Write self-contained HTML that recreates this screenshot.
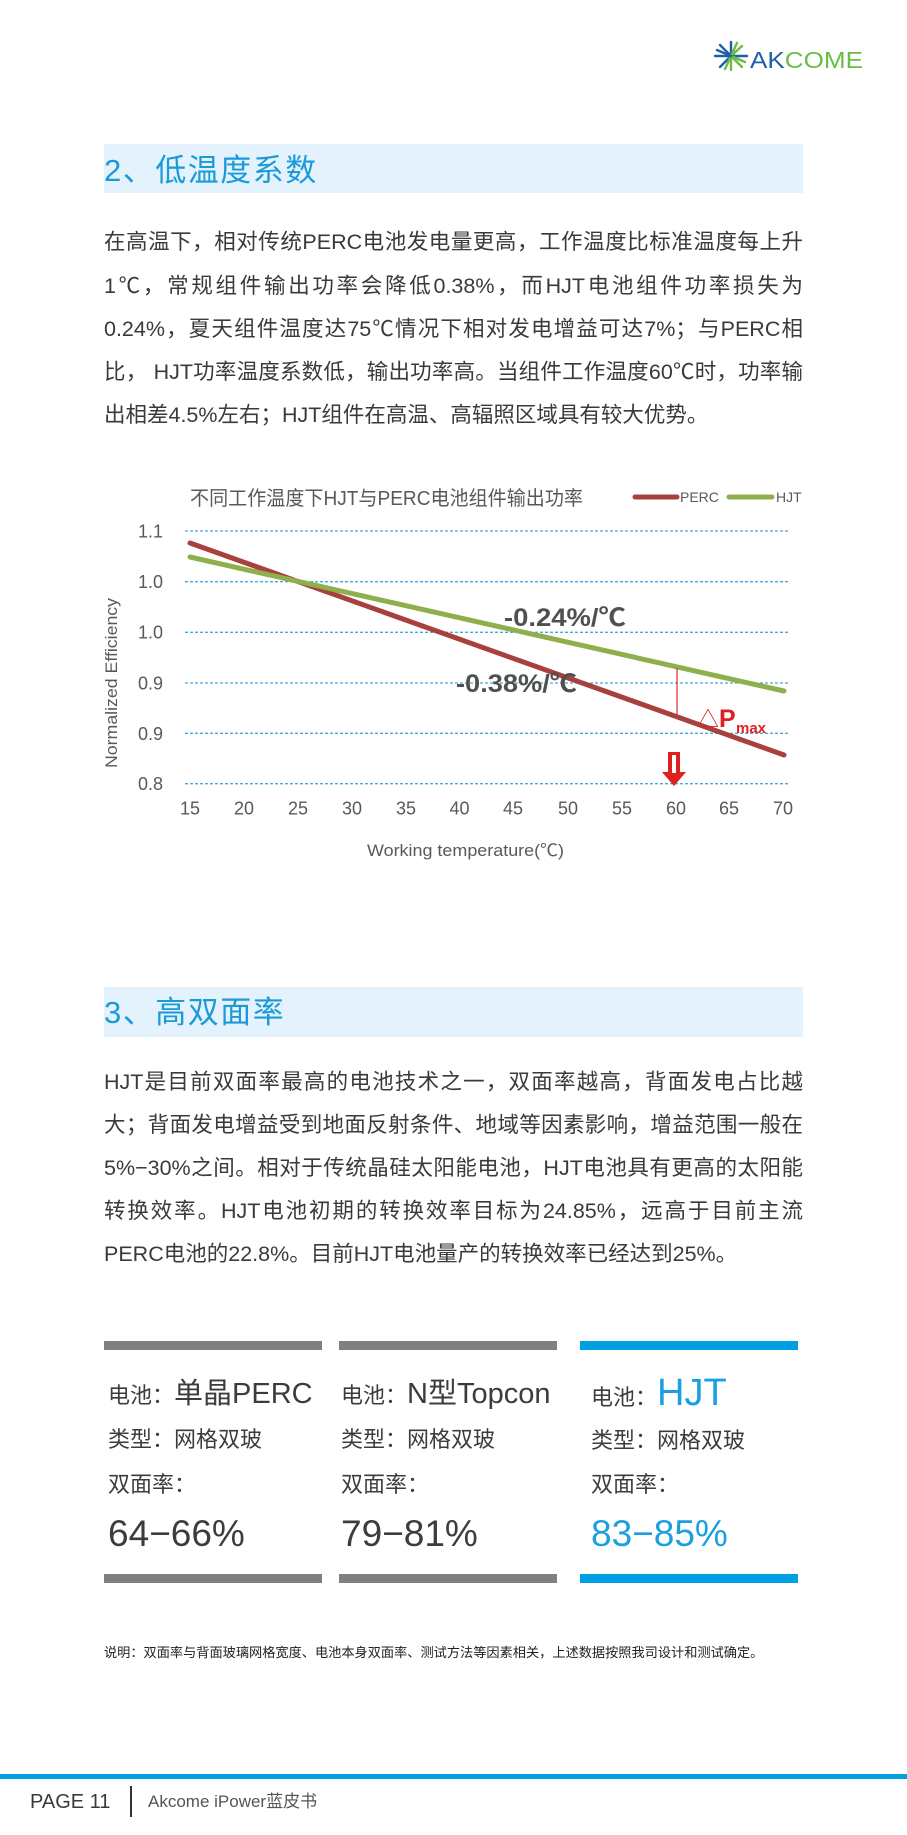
<!DOCTYPE html>
<html><head><meta charset="utf-8">
<style>
html,body{margin:0;padding:0;background:#fff;}
body{width:907px;height:1835px;position:relative;overflow:hidden;font-family:"Liberation Sans","Noto Sans CJK SC",sans-serif;}
.abs{position:absolute;}
.band{position:absolute;left:104px;width:699px;background:#e3f2fc;}
.h{position:absolute;left:104px;font-size:31px;letter-spacing:1.5px;color:#1a9ad7;white-space:nowrap;}
.ln{position:absolute;left:104px;width:699px;height:30px;line-height:30px;font-size:21.5px;color:#3a3a3a;white-space:nowrap;text-align:justify;text-align-last:justify;}
.ln.last{text-align:left;text-align-last:left;}
.bar{position:absolute;height:9px;}
.ct{position:absolute;white-space:nowrap;color:#3c3c3c;font-size:22px;line-height:30px;height:30px;}
.val{position:absolute;white-space:nowrap;color:#3c3c3c;font-size:37px;line-height:44px;height:44px;}
</style></head><body>

<svg class="abs" style="left:0;top:0" width="907" height="900" viewBox="0 0 907 900">
  <g stroke-width="2.4" stroke-linecap="round">
    <line x1="731" y1="56" x2="731" y2="42" stroke="#1f5ea8"/>
    <line x1="731" y1="56" x2="742" y2="46" stroke="#6abd45"/>
    <line x1="731" y1="56" x2="747" y2="56" stroke="#1f5ea8"/>
    <line x1="731" y1="56" x2="742" y2="67" stroke="#6abd45"/>
    <line x1="731" y1="56" x2="731" y2="70" stroke="#6abd45"/>
    <line x1="731" y1="56" x2="720" y2="67" stroke="#1f5ea8"/>
    <line x1="731" y1="56" x2="715" y2="56" stroke="#1f5ea8"/>
    <line x1="731" y1="56" x2="720" y2="45" stroke="#1f5ea8"/>
    <line x1="731" y1="56" x2="737" y2="43" stroke="#6abd45"/>
    <line x1="731" y1="56" x2="725" y2="69" stroke="#6abd45"/>
    <line x1="731" y1="56" x2="745" y2="62" stroke="#6abd45"/>
    <line x1="731" y1="56" x2="717" y2="50" stroke="#1f5ea8"/>
  </g>
  <text x="750" y="68" font-family="Liberation Sans" font-size="23" textLength="113" lengthAdjust="spacingAndGlyphs"><tspan fill="#1f5ea8">AK</tspan><tspan fill="#6abd45">COME</tspan></text>

  <text x="190" y="505" font-family="Liberation Sans, Noto Sans CJK SC, sans-serif" font-size="20" fill="#595959" textLength="393" lengthAdjust="spacingAndGlyphs">不同工作温度下HJT与PERC电池组件输出功率</text>
  <line x1="635" y1="497" x2="677" y2="497" stroke="#a8413e" stroke-width="5" stroke-linecap="round"/>
  <text x="680" y="502" font-family="Liberation Sans" font-size="14" fill="#595959">PERC</text>
  <line x1="729" y1="497" x2="772" y2="497" stroke="#8db04d" stroke-width="5" stroke-linecap="round"/>
  <text x="776" y="502" font-family="Liberation Sans" font-size="14" fill="#595959">HJT</text>

  <g stroke="#4aa8dc" stroke-width="1.3" stroke-dasharray="3 2">
    <line x1="185" y1="531" x2="789" y2="531"/>
    <line x1="185" y1="581.7" x2="789" y2="581.7"/>
    <line x1="185" y1="632.3" x2="789" y2="632.3"/>
    <line x1="185" y1="683" x2="789" y2="683"/>
    <line x1="185" y1="733.3" x2="789" y2="733.3"/>
    <line x1="185" y1="783.7" x2="789" y2="783.7"/>
  </g>
  <g font-family="Liberation Sans" font-size="18" fill="#595959" text-anchor="end">
    <text x="163" y="537.5">1.1</text>
    <text x="163" y="588">1.0</text>
    <text x="163" y="638.5">1.0</text>
    <text x="163" y="689.5">0.9</text>
    <text x="163" y="740">0.9</text>
    <text x="163" y="790">0.8</text>
  </g>
  <g font-family="Liberation Sans" font-size="18" fill="#595959" text-anchor="middle">
    <text x="190" y="814.5">15</text>
    <text x="244" y="814.5">20</text>
    <text x="298" y="814.5">25</text>
    <text x="352" y="814.5">30</text>
    <text x="406" y="814.5">35</text>
    <text x="459.5" y="814.5">40</text>
    <text x="513" y="814.5">45</text>
    <text x="568" y="814.5">50</text>
    <text x="622" y="814.5">55</text>
    <text x="676" y="814.5">60</text>
    <text x="729" y="814.5">65</text>
    <text x="783" y="814.5">70</text>
  </g>
  <text transform="translate(117,683) rotate(-90)" text-anchor="middle" font-family="Liberation Sans" font-size="16.5" fill="#595959" textLength="170" lengthAdjust="spacingAndGlyphs">Normalized Efficiency</text>
  <text x="367" y="856" font-family="Liberation Sans, Noto Sans CJK SC, sans-serif" font-size="17" fill="#595959" textLength="197" lengthAdjust="spacingAndGlyphs">Working temperature(℃)</text>

  <line x1="190" y1="543" x2="784" y2="755" stroke="#a8413e" stroke-width="5" stroke-linecap="round"/>
  <line x1="190" y1="557" x2="784" y2="691" stroke="#8db04d" stroke-width="5" stroke-linecap="round"/>

  <text x="504" y="626" font-family="Liberation Sans, Noto Sans CJK SC, sans-serif" font-size="25" font-weight="bold" fill="#505050" textLength="122" lengthAdjust="spacingAndGlyphs">-0.24%/℃</text>
  <text x="456" y="692" font-family="Liberation Sans, Noto Sans CJK SC, sans-serif" font-size="25" font-weight="bold" fill="#505050" textLength="121" lengthAdjust="spacingAndGlyphs">-0.38%/℃</text>

  <line x1="677" y1="668" x2="677" y2="716" stroke="#e52c2c" stroke-width="1.2"/>
  <text x="697" y="727" font-family="Noto Sans CJK SC, sans-serif" font-size="22" fill="#e02020">△</text>
  <text x="719" y="727" font-family="Liberation Sans" font-size="25" font-weight="bold" fill="#e02020">P</text>
  <text x="736" y="733" font-family="Liberation Sans" font-size="15" font-weight="bold" fill="#e02020">max</text>

  <polygon points="668,752 680,752 680,772 686,772 674,786 662,772 668,772" fill="#e02020"/>
  <rect x="672" y="755" width="4" height="18" fill="#fff"/>
</svg>

<div class="band" style="top:144px;height:49px;"></div>
<div class="h" style="top:146px;height:49px;line-height:49px;">2、低温度系数</div>

<div class="ln" style="top:227px;">在高温下，相对传统PERC电池发电量更高，工作温度比标准温度每上升</div>
<div class="ln" style="top:271px;">1℃，常规组件输出功率会降低0.38%，而HJT电池组件功率损失为</div>
<div class="ln" style="top:314px;">0.24%，夏天组件温度达75℃情况下相对发电增益可达7%；与PERC相</div>
<div class="ln" style="top:357px;">比， HJT功率温度系数低，输出功率高。当组件工作温度60℃时，功率输</div>
<div class="ln last" style="top:400px;">出相差4.5%左右；HJT组件在高温、高辐照区域具有较大优势。</div>

<div class="band" style="top:987px;height:50px;"></div>
<div class="h" style="top:988px;height:50px;line-height:50px;">3、高双面率</div>

<div class="ln" style="top:1067px;">HJT是目前双面率最高的电池技术之一，双面率越高，背面发电占比越</div>
<div class="ln" style="top:1110px;">大；背面发电增益受到地面反射条件、地域等因素影响，增益范围一般在</div>
<div class="ln" style="top:1153px;">5%−30%之间。相对于传统晶硅太阳能电池，HJT电池具有更高的太阳能</div>
<div class="ln" style="top:1196px;">转换效率。HJT电池初期的转换效率目标为24.85%，远高于目前主流</div>
<div class="ln last" style="top:1239px;">PERC电池的22.8%。目前HJT电池量产的转换效率已经达到25%。</div>

<div class="bar" style="left:104px;width:218px;top:1341px;background:#808080;"></div>
<div class="bar" style="left:339px;width:218px;top:1341px;background:#808080;"></div>
<div class="bar" style="left:580px;width:218px;top:1341px;background:#009fe3;"></div>
<div class="bar" style="left:104px;width:218px;top:1574px;background:#808080;"></div>
<div class="bar" style="left:339px;width:218px;top:1574px;background:#808080;"></div>
<div class="bar" style="left:580px;width:218px;top:1574px;background:#009fe3;"></div>

<div class="ct" style="left:108px;top:1377px;height:34px;line-height:34px;">电池：<span style="font-size:29px;">单晶PERC</span></div>
<div class="ct" style="left:108px;top:1425px;">类型：网格双玻</div>
<div class="ct" style="left:108px;top:1470px;">双面率：</div>
<div class="val" style="left:108px;top:1512px;">64−66%</div>

<div class="ct" style="left:341px;top:1377px;height:34px;line-height:34px;">电池：<span style="font-size:29px;">N型Topcon</span></div>
<div class="ct" style="left:341px;top:1425px;">类型：网格双玻</div>
<div class="ct" style="left:341px;top:1470px;">双面率：</div>
<div class="val" style="left:341px;top:1512px;">79−81%</div>

<div class="ct" style="left:591px;top:1375px;height:36px;line-height:36px;">电池：<span style="font-size:38px;color:#1a9fe0;">HJT</span></div>
<div class="ct" style="left:591px;top:1426px;">类型：网格双玻</div>
<div class="ct" style="left:591px;top:1470px;">双面率：</div>
<div class="val" style="left:591px;top:1512px;color:#1a9fe0;">83−85%</div>

<div class="abs" style="left:104px;top:1643px;font-size:13.2px;line-height:20px;color:#222;white-space:nowrap;">说明：双面率与背面玻璃网格宽度、电池本身双面率、测试方法等因素相关，上述数据按照我司设计和测试确定。</div>

<div class="abs" style="left:0;top:1774px;width:907px;height:5px;background:#009fe3;"></div>
<div class="abs" style="left:30px;top:1789px;font-size:20px;line-height:26px;color:#3a3a3a;white-space:nowrap;">PAGE 11</div>
<div class="abs" style="left:130px;top:1786px;width:2px;height:31px;background:#333;"></div>
<div class="abs" style="left:148px;top:1790px;font-size:17px;line-height:24px;color:#555;white-space:nowrap;">Akcome iPower蓝皮书</div>

</body></html>
